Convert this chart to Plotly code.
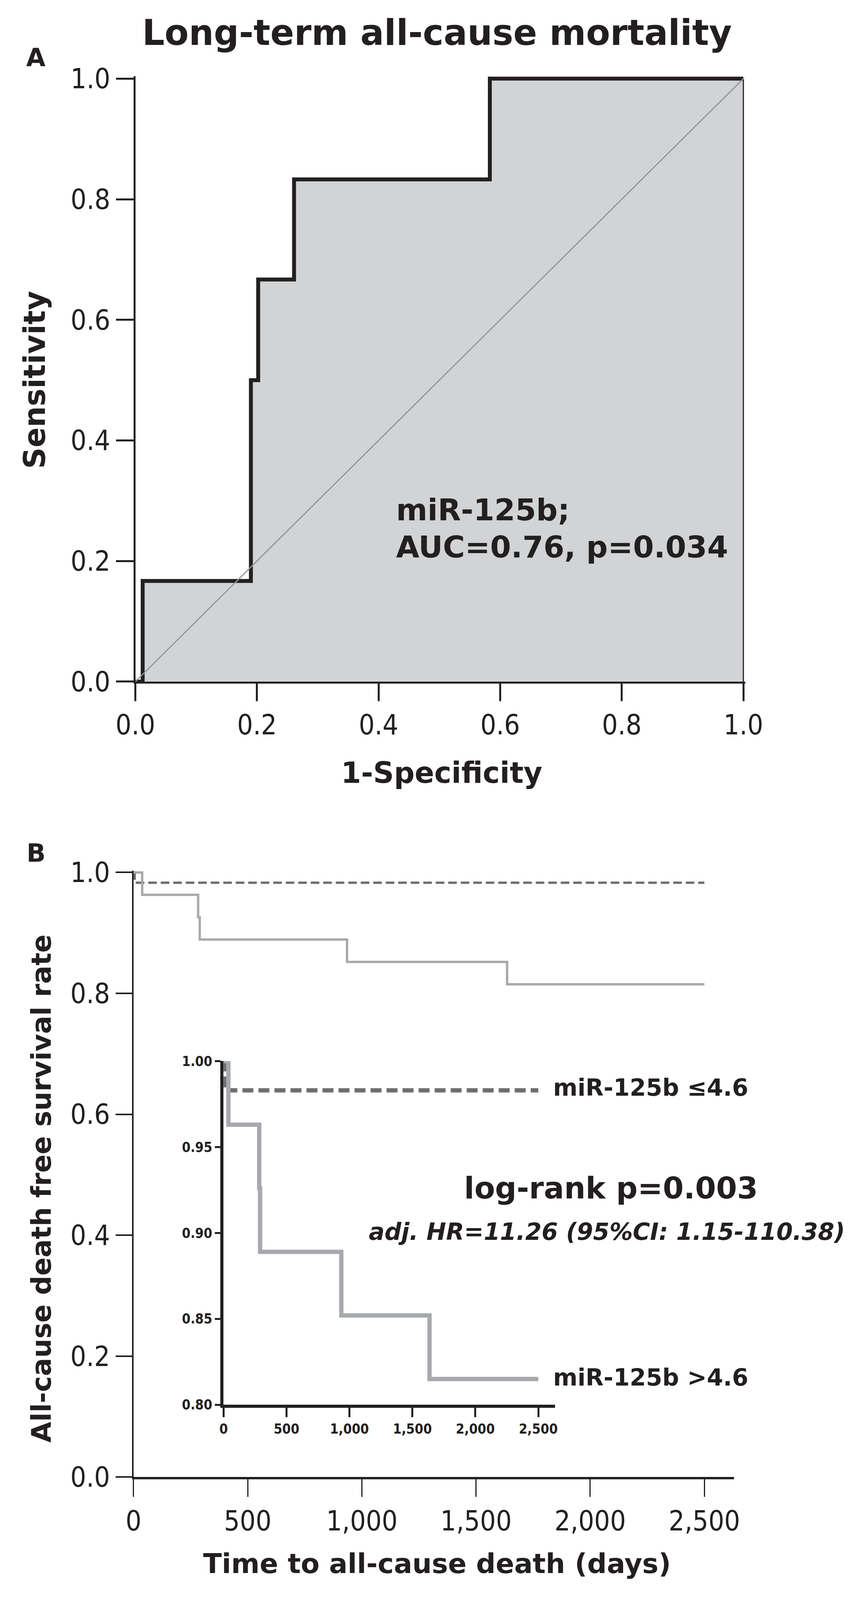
import plotly.graph_objects as go

W, H = 2217, 4235

# panel A: ROC curve of miR-125b for long-term all-cause mortality
roc_fpr = [0.0, 0.012, 0.19, 0.202, 0.261, 0.583, 1.0]
roc_tpr = [0.0, 0.167, 0.5, 0.667, 0.833, 1.0, 1.0]
roc_ticks = [0.0, 0.2, 0.4, 0.6, 0.8, 1.0]

# panel B: Kaplan-Meier, all-cause death free survival
km_days_low = [0, 5, 2500]          # miR-125b <=4.6
km_surv_low = [1.0, 0.983, 0.983]
km_days_high = [0, 38, 283, 290, 935, 1636, 2500]   # miR-125b >4.6
km_surv_high = [1.0, 0.963, 0.926, 0.889, 0.852, 0.815, 0.815]
day_ticks = [0, 500, 1000, 1500, 2000, 2500]
surv_ticks = [0.0, 0.2, 0.4, 0.6, 0.8, 1.0]
inset_ticks = [0.80, 0.85, 0.90, 0.95, 1.00]

BLACK = "#231f20"
LIGHT = "#a7a9ac"
DARK = "#6d6e71"
FILL = "#d1d3d4"
FONT = "DejaVu Sans"
TICKFONT = "DejaVu Sans Condensed, DejaVu Sans"


# positions below are worked out on a 2217x4235 sheet, then given as fractions
def fx(px):
    return px / W


def fy(py):
    return 1 - py / H


fig = go.Figure()

# --- A ---
fig.add_trace(go.Scatter(x=roc_fpr, y=roc_tpr, mode="lines", line_shape="hv",
                         fill="tozeroy", fillcolor=FILL,
                         line=dict(color=BLACK, width=10), xaxis="x", yaxis="y"))
fig.add_trace(go.Scatter(x=[roc_fpr[-1], roc_fpr[-1]], y=[0, roc_tpr[-1]], mode="lines",
                         line=dict(color=BLACK, width=3), xaxis="x", yaxis="y"))
fig.add_trace(go.Scatter(x=[0, 1], y=[0, 1], mode="lines",
                         line=dict(color="#939598", width=3), xaxis="x", yaxis="y"))

# --- B main ---
fig.add_trace(go.Scatter(x=km_days_low, y=km_surv_low, mode="lines", line_shape="hv",
                         line=dict(color=DARK, width=6, dash="22px,10px"),
                         xaxis="x2", yaxis="y2"))
fig.add_trace(go.Scatter(x=km_days_high, y=km_surv_high, mode="lines", line_shape="hv",
                         line=dict(color=LIGHT, width=6), xaxis="x2", yaxis="y2"))

# --- B inset ---
fig.add_trace(go.Scatter(x=km_days_low, y=km_surv_low, mode="lines", line_shape="hv",
                         line=dict(color=DARK, width=11, dash="28px,13px"),
                         xaxis="x3", yaxis="y3"))
fig.add_trace(go.Scatter(x=km_days_high, y=km_surv_high, mode="lines", line_shape="hv",
                         line=dict(color=LIGHT, width=11), xaxis="x3", yaxis="y3"))

main_tickfont = dict(family=TICKFONT, size=71, color=BLACK)
inset_tickfont = dict(family=TICKFONT, size=35, color=BLACK, weight="bold")

axis_common = dict(showgrid=False, zeroline=False, showline=True, linecolor=BLACK,
                   ticks="outside", tickcolor=BLACK)

fig.update_layout(
    autosize=True, margin=dict(l=0, r=0, t=0, b=0),
    paper_bgcolor="white", plot_bgcolor="rgba(0,0,0,0)", showlegend=False,
    xaxis=dict(axis_common, domain=[fx(303), fx(1948)], range=[0, 1.003],
               tickvals=roc_ticks, tickformat=".1f", linewidth=5, tickwidth=5,
               ticklen=45, tickfont=main_tickfont, anchor="y"),
    yaxis=dict(axis_common, domain=[fy(1800), fy(160)], range=[0, 1.004],
               tickvals=roc_ticks, tickformat=".1f", linewidth=5, tickwidth=5,
               ticklen=45, tickfont=main_tickfont, anchor="x"),
    xaxis2=dict(axis_common, domain=[fx(298), fx(1918)], range=[0, 2630],
                tickvals=day_ticks, tickformat=",d", linewidth=6, tickwidth=3,
                ticklen=45, tickfont=main_tickfont, anchor="y2"),
    yaxis2=dict(axis_common, domain=[fy(3955), fy(2312)], range=[0, 1.003],
                tickvals=surv_ticks, tickformat=".1f", linewidth=4, tickwidth=4,
                ticklen=42, tickfont=main_tickfont, anchor="x2"),
    xaxis3=dict(axis_common, domain=[fx(541), fx(1435)], range=[0, 2633],
                tickvals=day_ticks, tickformat=",d", linewidth=8, tickwidth=5,
                ticklen=24, tickfont=inset_tickfont, anchor="y3"),
    yaxis3=dict(axis_common, domain=[fy(3759), fy(2828)], range=[0.8, 1.0],
                tickvals=inset_ticks, tickformat=".2f", linewidth=8, tickwidth=5,
                ticklen=14, tickfont=inset_tickfont, anchor="x3"),
)


def label(text, x, y, size, xanchor="center", angle=0, italic=False):
    fig.add_annotation(text=text, x=fx(x), y=fy(y), xref="paper", yref="paper",
                       xanchor=xanchor, yanchor="middle", showarrow=False,
                       textangle=angle,
                       font=dict(family=FONT, size=size, color=BLACK, weight="bold",
                                 style="italic" if italic else "normal"))


label("Long-term all-cause mortality", 1117, 42, 90)
label("A", 35, 110, 64)
label("1-Specificity", 1130, 2047, 74)
label("Sensitivity", 32, 982, 76, angle=-90)
label("miR-125b;", 1004, 1335, 77, xanchor="left")
label("AUC=0.76, p=0.034", 1004, 1435, 77, xanchor="left")

label("B", 35, 2265, 64)
label("Time to all-cause death (days)", 1117, 4190, 70)
label("All-cause death free survival rate", 50, 3173, 69, angle=-90)
label("miR-125b \u22644.6", 1428, 2899, 60, xanchor="left")
label("miR-125b >4.6", 1428, 3685, 60, xanchor="left")
label("log-rank p=0.003", 1188, 3172, 77, xanchor="left")
label("adj. HR=11.26 (95%CI: 1.15-110.38)", 930, 3290, 60, xanchor="left", italic=True)

# fill the browser window (minus the page margin) so nothing falls below the fold
fig.write_html("out.html", default_width="calc(100vw - 16px)",
               default_height="calc(100vh - 16px)")
